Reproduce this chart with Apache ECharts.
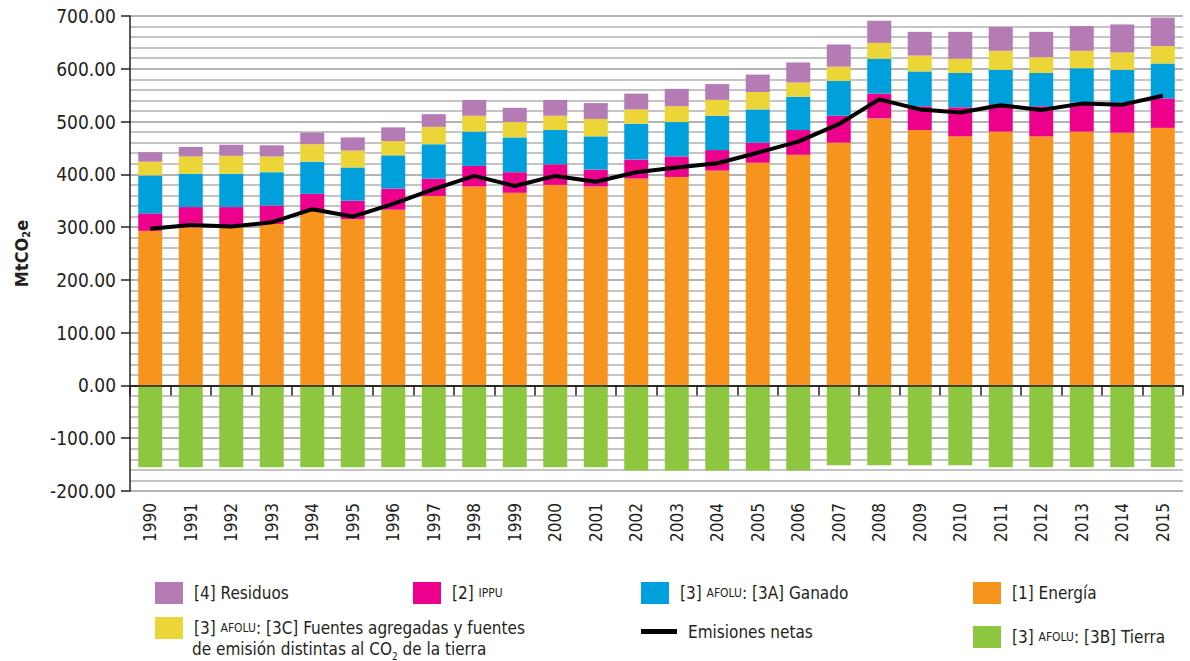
<!DOCTYPE html>
<html>
<head>
<meta charset="utf-8">
<script src="https://cdn.jsdelivr.net/npm/echarts@6/dist/echarts.min.js"></script>
<style>
  html, body { margin: 0; padding: 0; background: #fff; }
  #chart { width: 1190px; height: 661px; }
</style>
</head>
<body>
<div id="chart"></div>
<script>
var years = ['1990', '1991', '1992', '1993', '1994', '1995', '1996', '1997', '1998', '1999', '2000', '2001', '2002',
  '2003', '2004', '2005', '2006', '2007', '2008', '2009', '2010', '2011', '2012', '2013', '2014', '2015'];

var energia = [293, 300, 300, 306, 329, 315, 333, 359, 377, 365, 380, 377, 392, 395, 407, 422, 437, 460, 506, 484, 472, 481, 472, 481, 479, 488];
var ippu = [33, 38, 38, 35, 34, 35, 40, 33, 39, 39, 39, 32, 36, 39, 39, 38, 47, 51, 47, 45, 55, 52, 57, 55, 57, 56];
var ganado = [72, 63, 63, 63, 61, 63, 63, 65, 65, 66, 65, 63, 68, 65, 65, 63, 63, 66, 66, 66, 65, 65, 63, 65, 62, 66];
var fuentes3c = [26, 33, 34, 30, 33, 32, 27, 33, 30, 29, 27, 33, 27, 30, 30, 33, 27, 27, 30, 30, 27, 36, 30, 33, 33, 33];
var residuos = [18, 18, 21, 21, 22, 25, 26, 24, 30, 27, 30, 30, 30, 33, 30, 33, 38, 42, 42, 45, 51, 45, 48, 47, 53, 54];
var tierra = [-155, -155, -155, -155, -155, -155, -155, -155, -155, -155, -155, -155, -161, -161, -161, -161, -161,
  -151, -151, -151, -151, -155, -155, -155, -155, -155];
var netas = [297, 304, 301, 309, 334, 320, 344, 372, 397, 378, 397, 386, 404, 413, 421, 441, 462, 495, 542, 523, 517, 531, 522, 534, 532, 549];

var font = "'Liberation Sans Narrow', 'DejaVu Sans Condensed', sans-serif";
var ink = '#231f20';

var legendRich = {
  sc: { fontFamily: font, fontSize: 12, color: ink },
  sub: { fontFamily: font, fontSize: 10, color: ink, verticalAlign: 'bottom', padding: [0, 0, -4, 0] },
  n: { fontFamily: font, fontSize: 17, color: ink }
};

var labels = {
  '[4] Residuos': '{n|[4] Residuos}',
  '[2] IPPU': '{n|[2] }{sc|IPPU}',
  '[3] AFOLU: [3A] Ganado': '{n|[3] }{sc|AFOLU}{n|: [3A] Ganado}',
  '[1] Energía': '{n|[1] Energía}',
  '[3] AFOLU: [3C]': '{n|[3] }{sc|AFOLU}{n|: [3C] Fuentes agregadas y fuentes}',
  'Emisiones netas': '{n|Emisiones netas}',
  '[3] AFOLU: [3B] Tierra': '{n|[3] }{sc|AFOLU}{n|: [3B] Tierra}'
};

function leg(name, left, top, isLine) {
  return {
    data: [name],
    left: left,
    top: top,
    itemWidth: isLine ? 36 : 28,
    itemHeight: isLine ? 5 : 22,
    itemGap: 0,
    selectedMode: false,
    icon: 'rect',
    formatter: function(n) { return labels[n]; },
    textStyle: { fontFamily: font, fontSize: 17, color: ink, padding: [0, 0, 0, 6], rich: legendRich }
  };
}

var chart = echarts.init(document.getElementById('chart'), null, { renderer: 'svg' });

function barSeries(name, data, color) {
  return {
    name: name,
    type: 'bar',
    stack: 'total',
    data: data,
    barWidth: 24,
    itemStyle: { color: color },
    emphasis: { disabled: true }
  };
}

chart.setOption({
  animation: false,
  textStyle: { fontFamily: font },
  legend: [
    leg('[4] Residuos', 150, 577),
    leg('[2] IPPU', 408, 577),
    leg('[3] AFOLU: [3A] Ganado', 636, 577),
    leg('[1] Energía', 968, 577),
    leg('[3] AFOLU: [3C]', 150, 612),
    leg('Emisiones netas', 636, 618, true),
    leg('[3] AFOLU: [3B] Tierra', 968, 621)
  ],
  // second line of the 3C legend entry
  graphic: [{
    type: 'text',
    left: 192,
    top: 640,
    style: {
      text: '{n|de emisión distintas al CO}{sub|2}{n| de la tierra}',
      rich: legendRich,
      fill: ink
    }
  }],
  grid: { left: 130, right: 7, top: 16, bottom: 170, containLabel: false },
  xAxis: {
    type: 'category',
    data: years,
    axisLine: { lineStyle: { color: '#222', width: 1.5 } },
    axisTick: { show: true, interval: 0, length: 10, lineStyle: { color: '#222', width: 1.5 } },
    axisLabel: { interval: 0, rotate: 90, margin: 12, color: ink, fontSize: 17, fontFamily: font },
    splitLine: { show: false }
  },
  yAxis: {
    type: 'value',
    min: -200,
    max: 700,
    interval: 100,
    name: '{a|MtCO}{b|2}{a|e}',
    nameLocation: 'middle',
    nameGap: 98,
    nameRotate: 90,
    nameTextStyle: {
      rich: {
        a: { fontFamily: font, fontSize: 18, fontWeight: 'bold', color: ink, lineHeight: 22 },
        b: { fontFamily: font, fontSize: 11, fontWeight: 'bold', color: ink, verticalAlign: 'bottom', lineHeight: 16 }
      }
    },
    axisLine: { show: true, lineStyle: { color: '#222', width: 1.5 } },
    axisTick: { show: true, length: 9, lineStyle: { color: '#222', width: 1.5 } },
    axisLabel: {
      color: ink, fontSize: 19, fontFamily: font, margin: 14,
      formatter: function(v) { return v.toFixed(2); }
    },
    minorTick: { show: false, splitNumber: 5 },
    splitLine: { show: true, lineStyle: { color: '#9a9a9a', width: 1.5 } },
    minorSplitLine: { show: true, lineStyle: { color: '#c4c4c4', width: 2 } }
  },
  series: [
    barSeries('[1] Energía', energia, '#F7941D'),
    barSeries('[2] IPPU', ippu, '#EC008C'),
    barSeries('[3] AFOLU: [3A] Ganado', ganado, '#00A0DC'),
    barSeries('[3] AFOLU: [3C]', fuentes3c, '#EBD537'),
    barSeries('[4] Residuos', residuos, '#B57BB5'),
    barSeries('[3] AFOLU: [3B] Tierra', tierra, '#8DC63F'),
    {
      name: 'Emisiones netas',
      type: 'line',
      data: netas,
      symbol: 'none',
      z: 5,
      lineStyle: { color: '#000', width: 4 },
      itemStyle: { color: '#000' },
      markLine: {
        silent: true,
        symbol: 'none',
        label: { show: false },
        lineStyle: { color: '#222', width: 1.5, type: 'solid' },
        data: [{ yAxis: 0 }]
      }
    }
  ]
});
</script>
</body>
</html>
